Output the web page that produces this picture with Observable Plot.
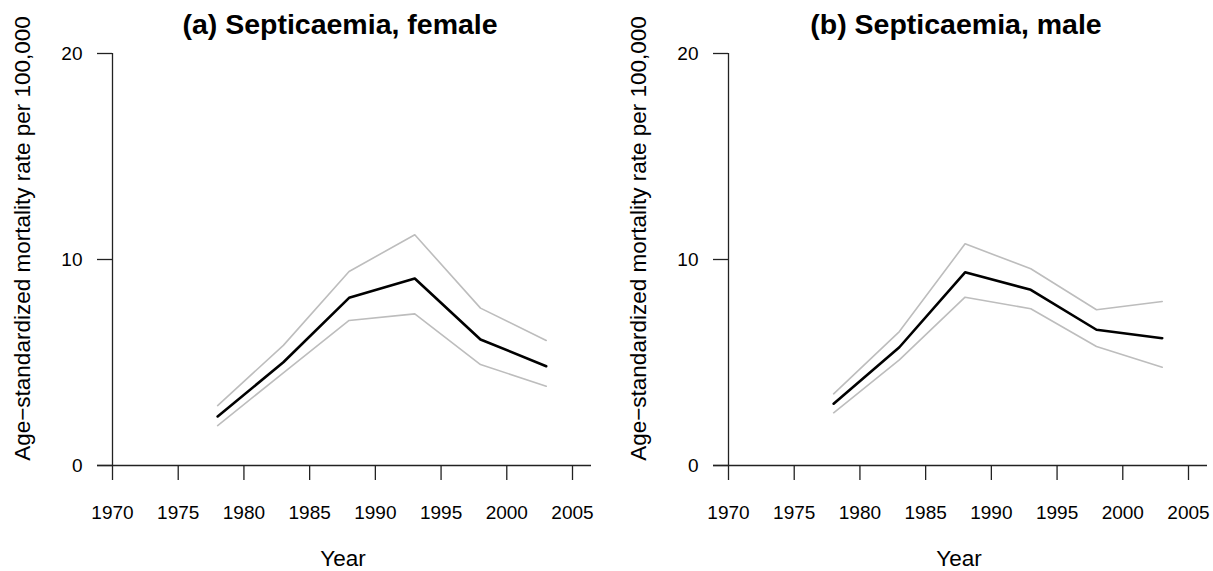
<!DOCTYPE html>
<html>
<head>
<meta charset="utf-8">
<script src="https://cdn.jsdelivr.net/npm/d3@7"></script>
<script src="https://cdn.jsdelivr.net/npm/@observablehq/plot@0.6"></script>
<style>
  html, body { margin: 0; padding: 0; background: #fff; }
  #wrap { display: flex; flex-direction: row; width: 1213px; height: 571px; overflow: hidden; }
  svg { display: block; }
</style>
</head>
<body>
<div id="wrap"></div>
<script>
const years = [1978, 1983, 1988, 1993, 1998, 2003];
const xTicks = [1970, 1975, 1980, 1985, 1990, 1995, 2000, 2005];
const yTicks = [0, 10, 20];

const femaleEst = [2.38, 5.01, 8.14, 9.08, 6.12, 4.82];
const femaleLo  = [1.94, 4.50, 7.04, 7.36, 4.90, 3.85];
const femaleHi  = [2.91, 5.83, 9.42, 11.20, 7.64, 6.07];

const maleEst = [3.00, 5.74, 9.38, 8.53, 6.59, 6.18];
const maleLo  = [2.56, 5.13, 8.17, 7.61, 5.78, 4.77];
const maleHi  = [3.48, 6.50, 10.76, 9.55, 7.56, 7.96];

const titles = ["(a) Septicaemia, female", "(b) Septicaemia, male"];
const yLabel = "Age\u2212standardized mortality rate per 100,000";
const xLabel = "Year";

const FONT = "'Liberation Sans', Arial, Helvetica, sans-serif";

function panel(title, est, lo, hi, width, marginRight) {
  const rows = years.map((year, i) => ({year, est: est[i], lo: lo[i], hi: hi[i]}));
  return Plot.plot({
    width,
    height: 571,
    marginLeft: 112,
    marginRight,
    marginTop: 53,
    marginBottom: 106,
    x: {domain: [1970, 2005], insetRight: 19},
    y: {domain: [0, 20]},
    style: {fontFamily: FONT, fontSize: "19px", color: "#000", background: "#fff", overflow: "visible"},
    marks: [
      Plot.ruleY([0], {stroke: "#222", strokeWidth: 1.3, insetLeft: -15}),
      Plot.ruleX([1970], {y1: 0, y2: 20, stroke: "#222", strokeWidth: 1.3}),
      Plot.axisX({ticks: xTicks, tickSize: 15, tickPadding: 25, tickFormat: d => String(d), label: null, stroke: "#222", strokeWidth: 1.3, fontSize: 19}),
      Plot.axisY({ticks: yTicks, tickSize: 15, tickPadding: 15, tickFormat: d => String(d), label: null, stroke: "#222", strokeWidth: 1.3, fontSize: 19}),
      Plot.line(rows, {x: "year", y: "hi", stroke: "#bdbdbd", strokeWidth: 1.6}),
      Plot.line(rows, {x: "year", y: "lo", stroke: "#bdbdbd", strokeWidth: 1.6}),
      Plot.line(rows, {x: "year", y: "est", stroke: "#000", strokeWidth: 2.6}),
      Plot.text([title], {text: d => d, frameAnchor: "top", lineAnchor: "bottom", dy: -20, dx: -12, fontSize: 28.5, fontWeight: "bold"}),
      Plot.text([xLabel], {text: d => d, frameAnchor: "bottom", lineAnchor: "bottom", dy: 100, dx: -9, fontSize: 22.5}),
      Plot.text([yLabel], {text: d => d, frameAnchor: "left", textAnchor: "middle", rotate: -90, lineAnchor: "middle", dx: -90, dy: -21, fontSize: 22.5})
    ]
  });
}

const wrap = document.getElementById("wrap");
wrap.appendChild(panel(titles[0], femaleEst, femaleLo, femaleHi, 616, 25));
wrap.appendChild(panel(titles[1], maleEst, maleLo, maleHi, 597, 6));
</script>
</body>
</html>
